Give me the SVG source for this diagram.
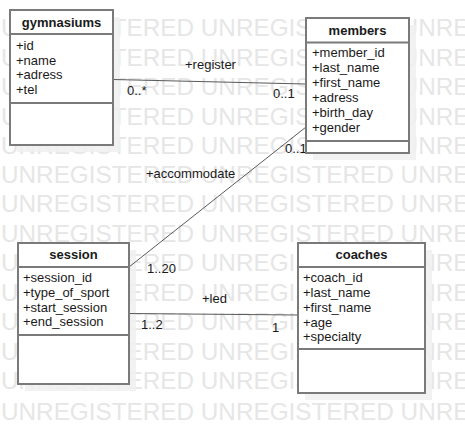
<svg xmlns="http://www.w3.org/2000/svg" width="465" height="433" viewBox="0 0 465 433">
<style>
.wm{font-family:"Liberation Sans",Arial,sans-serif;font-size:24.3px;fill:#e6e6e6}
.box{fill:#fff;stroke:#7a7a7a;stroke-width:2}
.sep{stroke:#7a7a7a;stroke-width:2}
.shadow{fill:#f0f0f0;opacity:0.85}
.title{font-family:"Liberation Sans",Arial,sans-serif;font-size:13px;font-weight:bold;fill:#1a1a1a;text-anchor:middle}
.attr{font-family:"Liberation Sans",Arial,sans-serif;font-size:13px;fill:#1a1a1a}
.lbl{font-family:"Liberation Sans",Arial,sans-serif;font-size:13px;fill:#1a1a1a}
.conn{stroke:#5a5a5a;stroke-width:1;fill:none}
</style>
<rect width="465" height="433" fill="#fff"/>
<g id="watermark">
<text class="wm" x="1" y="36">UNREGISTERED UNREGISTERED UNREGISTERED</text>
<text class="wm" x="1" y="65.5">UNREGISTERED UNREGISTERED UNREGISTERED</text>
<text class="wm" x="1" y="95">UNREGISTERED UNREGISTERED UNREGISTERED</text>
<text class="wm" x="1" y="124.5">UNREGISTERED UNREGISTERED UNREGISTERED</text>
<text class="wm" x="1" y="154">UNREGISTERED UNREGISTERED UNREGISTERED</text>
<text class="wm" x="1" y="183">UNREGISTERED UNREGISTERED UNREGISTERED</text>
<text class="wm" x="1" y="212">UNREGISTERED UNREGISTERED UNREGISTERED</text>
<text class="wm" x="1" y="241.5">UNREGISTERED UNREGISTERED UNREGISTERED</text>
<text class="wm" x="1" y="271">UNREGISTERED UNREGISTERED UNREGISTERED</text>
<text class="wm" x="1" y="300.5">UNREGISTERED UNREGISTERED UNREGISTERED</text>
<text class="wm" x="1" y="330">UNREGISTERED UNREGISTERED UNREGISTERED</text>
<text class="wm" x="1" y="359.5">UNREGISTERED UNREGISTERED UNREGISTERED</text>
<text class="wm" x="1" y="389">UNREGISTERED UNREGISTERED UNREGISTERED</text>
<text class="wm" x="1" y="419.5">UNREGISTERED UNREGISTERED UNREGISTERED</text>
</g>
<g id="shadows">
<rect class="shadow" x="17" y="17" width="103" height="135"/>
<rect class="shadow" x="313" y="25" width="103" height="135"/>
<rect class="shadow" x="25" y="250" width="111" height="141"/>
<rect class="shadow" x="305" y="250" width="127" height="150"/>
</g>
<g id="connectors">
<line class="conn" x1="113" y1="79.5" x2="306" y2="84"/>
<line class="conn" x1="306" y1="127" x2="129" y2="267"/>
<line class="conn" x1="129" y1="313.5" x2="298" y2="315"/>
<text class="lbl" x="185" y="69">+register</text>
<text class="lbl" x="127" y="95">0..*</text>
<text class="lbl" x="273" y="98">0..1</text>
<text class="lbl" x="146" y="178">+accommodate</text>
<text class="lbl" x="285" y="153">0..1</text>
<text class="lbl" x="147" y="273">1..20</text>
<text class="lbl" x="202" y="303">+led</text>
<text class="lbl" x="141" y="329">1..2</text>
<text class="lbl" x="272" y="331.5">1</text>
</g>
<g id="gymnasiums">
<rect class="box" x="10" y="10" width="103" height="135"/>
<line class="sep" x1="10" y1="34" x2="113" y2="34"/>
<line class="sep" x1="10" y1="103" x2="113" y2="103"/>
<text class="title" x="61.5" y="27">gymnasiums</text>
<text class="attr" x="16" y="50">+id</text>
<text class="attr" x="16" y="64.7">+name</text>
<text class="attr" x="16" y="79.4">+adress</text>
<text class="attr" x="16" y="94">+tel</text>
</g>
<g id="members">
<rect class="box" x="306" y="18" width="103" height="135"/>
<line class="sep" x1="306" y1="42.5" x2="409" y2="42.5"/>
<line class="sep" x1="306" y1="141" x2="409" y2="141"/>
<text class="title" x="357.5" y="35">members</text>
<text class="attr" x="312" y="57">+member_id</text>
<text class="attr" x="312" y="72">+last_name</text>
<text class="attr" x="312" y="87">+first_name</text>
<text class="attr" x="312" y="102">+adress</text>
<text class="attr" x="312" y="117">+birth_day</text>
<text class="attr" x="312" y="131.5">+gender</text>
</g>
<g id="session">
<rect class="box" x="18" y="243" width="111" height="141"/>
<line class="sep" x1="18" y1="267" x2="129" y2="267"/>
<line class="sep" x1="18" y1="335" x2="129" y2="335"/>
<text class="title" x="73.5" y="259">session</text>
<text class="attr" x="23" y="282">+session_id</text>
<text class="attr" x="23" y="296.7">+type_of_sport</text>
<text class="attr" x="23" y="311.5">+start_session</text>
<text class="attr" x="23" y="326">+end_session</text>
</g>
<g id="coaches">
<rect class="box" x="298" y="243" width="127" height="150"/>
<line class="sep" x1="298" y1="267" x2="425" y2="267"/>
<line class="sep" x1="298" y1="349" x2="425" y2="349"/>
<text class="title" x="361.5" y="259">coaches</text>
<text class="attr" x="303" y="282">+coach_id</text>
<text class="attr" x="303" y="296.7">+last_name</text>
<text class="attr" x="303" y="311.5">+first_name</text>
<text class="attr" x="303" y="326.5">+age</text>
<text class="attr" x="303" y="341">+specialty</text>
</g>
</svg>
